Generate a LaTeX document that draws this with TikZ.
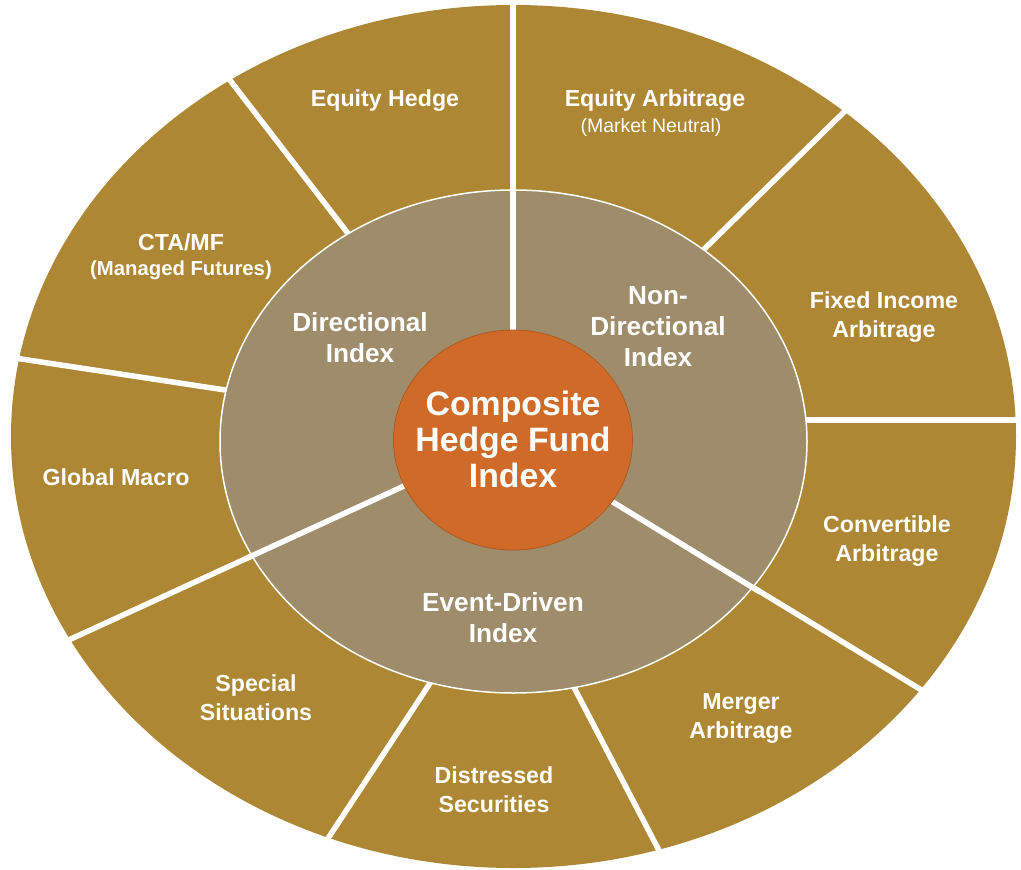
\documentclass[tikz,border=0pt]{standalone}
\usepackage{fontspec}
\setmainfont{Liberation Sans}
\usetikzlibrary{calc}
\definecolor{ringgold}{RGB}{173,135,51}
\definecolor{ringtaupe}{RGB}{158,140,106}
\definecolor{coreorange}{RGB}{207,106,40}
\begin{document}
\begin{tikzpicture}[x=1pt,y=-1pt,
  sepline/.style={white,line width=5.5pt},
  outerlbl/.style={text=white,font=\bfseries\fontsize{23.2}{29}\selectfont,align=center,inner sep=0pt},
  sublbl/.style={text=white,font=\bfseries\fontsize{20.3}{24}\selectfont,inner sep=0pt},
  thinlbl/.style={text=white,font=\fontsize{19.5}{23}\selectfont,inner sep=0pt},
  midlbl/.style={text=white,font=\bfseries\fontsize{26.2}{31}\selectfont,align=center,inner sep=0pt},
  corelbl/.style={text=white,font=\bfseries\fontsize{33.8}{36}\selectfont,align=center,inner sep=0pt}]
\useasboundingbox (0,0) rectangle (1021,870);
\fill[white] (0,0) rectangle (1021,870);

% outer ring of strategies
\fill[ringgold] (513.5,436.5) ellipse [x radius=502.5pt, y radius=431.5pt];

% dividers of the outer ring (inner ends are hidden by the middle ring)
\draw[sepline] (513,0) -- (513,441);
\draw[sepline] (360,249) -- (226,75);
\draw[sepline] (245,393) -- (5,356.5);
\draw[sepline] (513,436) -- (60,644);
\draw[sepline] (440,668) -- (323,846);
\draw[sepline] (566,672) -- (665,862);
\draw[sepline] (513,441) -- (928,694);
\draw[sepline] (790,420) -- (1025,420);
\draw[sepline] (690,263) -- (845,111);

% middle ring of sub-indices
\filldraw[fill=ringtaupe,draw=white,line width=1.5pt]
  (513.5,441.5) ellipse [x radius=293.5pt, y radius=251.5pt];
\draw[sepline] (513,441) -- (513,185);
\draw[sepline] (513,436) -- (245,559);
\draw[sepline] (513,441) -- (760,592);

% composite core
\filldraw[fill=coreorange,draw=coreorange!85!black,line width=0.8pt]
  (513,440) ellipse [x radius=119.5pt, y radius=110pt];

% outer labels
\node[outerlbl,anchor=base] (eqhedge) at (385,106) {Equity Hedge};
\node[outerlbl,anchor=base] (eqarb) at (655,106) {Equity Arbitrage};
\node[thinlbl,anchor=base] (eqarbsub) at (651,132) {(Market Neutral)};
\node[outerlbl,anchor=base] (cta) at (181,250) {CTA/MF};
\node[sublbl,anchor=base] (ctasub) at (181,275) {(Managed Futures)};
\node[outerlbl] (fixinc) at (884,316.8) {Fixed Income\\Arbitrage};
\node[outerlbl,anchor=base] (macro) at (116,485) {Global Macro};
\node[outerlbl] (convarb) at (887,540.8) {Convertible\\Arbitrage};
\node[outerlbl] (special) at (256,697.5) {Special\\Situations};
\node[outerlbl] (distress) at (494,789.5) {Distressed\\Securities};
\node[outerlbl] (merger) at (741,718.8) {Merger\\Arbitrage};

% middle labels
\node[midlbl] (dirindex) at (360,337.5) {Directional\\Index};
\node[midlbl] (nondir) at (658,327) {Non-\\Directional\\Index};
\node[midlbl] (event) at (503,617.5) {Event-Driven\\Index};

% core label
\node[corelbl] (composite) at (513,439.5) {Composite\\Hedge Fund\\Index};
\end{tikzpicture}
\end{document}
